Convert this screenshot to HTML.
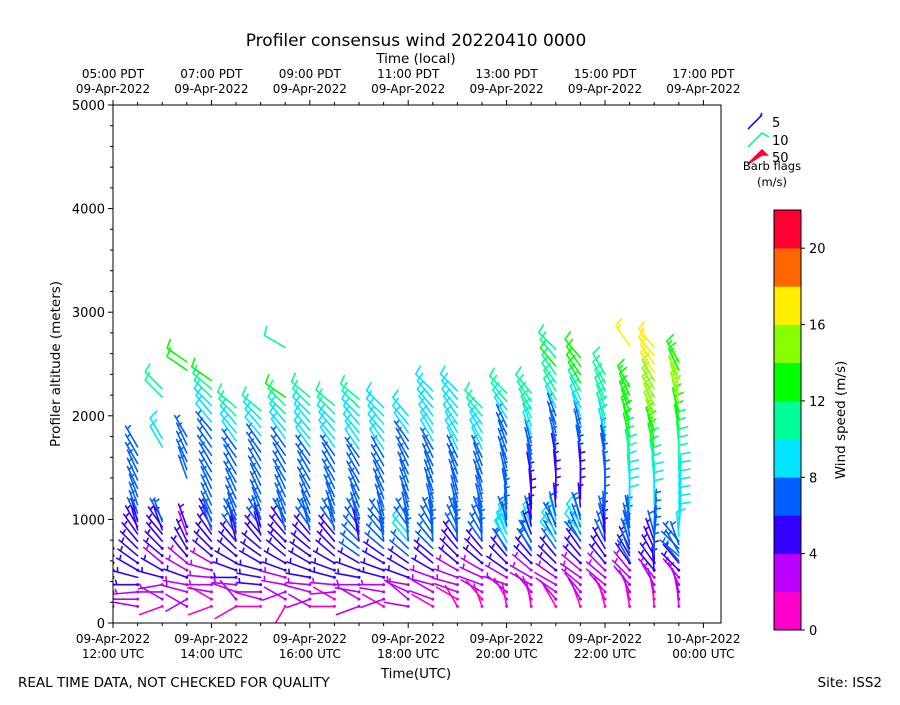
<!DOCTYPE html>
<html><head><meta charset="utf-8"><style>
body{margin:0;background:#fff;}
svg text{font-family:"DejaVu Sans","Liberation Sans",sans-serif;}
</style></head><body>
<svg id="chart" width="900" height="700" viewBox="0 0 900 700" xmlns="http://www.w3.org/2000/svg">
<rect x="0" y="0" width="900" height="700" fill="#fff"/>
<text x="416" y="46" font-size="17" text-anchor="middle">Profiler consensus wind 20220410 0000</text>
<text x="416" y="63" font-size="13.5" text-anchor="middle">Time (local)</text>
<text x="416" y="678" font-size="13.5" text-anchor="middle">Time(UTC)</text>
<text x="60" y="364" font-size="13.5" text-anchor="middle" transform="rotate(-90 60 364)">Profiler altitude (meters)</text>
<text x="18" y="687" font-size="13.5">REAL TIME DATA, NOT CHECKED FOR QUALITY</text>
<text x="882" y="687" font-size="13.5" text-anchor="end">Site: ISS2</text>
<defs><clipPath id="pc"><rect x="113" y="105" width="608" height="518"/></clipPath></defs>
<g id="barbs" clip-path="url(#pc)"></g>
<rect x="113" y="105" width="608" height="518" fill="none" stroke="#000" stroke-width="1"/>
<g id="axes"></g>
<g id="legend"></g>
<g id="cbar"></g>
</svg>
<script>
const colHours=[0,0.5,1,1.5,2,2.5,3,3.5,4,4.5,5,5.5,6,6.5,7,7.5,8,8.5,9,9.5,10,10.5,11,11.5];
const lowHeights=[160,230,300,370,440,510,580,650,720,790,860,930,1000];
const lowSpd=[
[2,2,3,4,4,4,4,4,4,5,5,5,null],
[2,2,3,4,5,4,4,5,5,5,5,5,6],
[1,2,2,3,4,4,3,4,4,5,5,5,6],
[2,2,3,3,4,3,3,4,4,4,3,4,null],
[1,1,2,3,3,3,3,4,4,5,5,5,5],
[1,2,2,3,4,4,4,4,5,5,6,6,6],
[1,2,2,4,5,4,4,5,5,5,5,6,6],
[1,2,2,3,3,4,4,5,5,4,5,5,6],
[2,2,2,3,4,4,4,4,5,5,5,6,6],
[1,1,2,3,4,4,4,5,5,5,5,6,6],
[2,2,3,3,4,4,5,6,6,6,6,6,6],
[1,2,2,3,4,4,4,5,6,7,7,7,7],
[2,2,3,3,4,5,5,6,7,8,8,7,7],
[1,2,2,3,3,4,5,5,6,6,7,7,7],
[1,1,2,3,3,3,4,4,5,5,6,6,6],
[1,1,2,2,3,3,4,5,5,6,6,6,7],
[1,1,2,3,3,4,4,5,6,8,8,8,7],
[1,1,2,2,3,3,4,5,6,6,8,8,7],
[1,2,2,2,3,4,5,5,6,6,7,7,8],
[1,2,2,3,3,3,4,5,5,6,6,7,7],
[1,1,2,2,3,3,4,4,5,6,6,7,6],
[1,1,2,2,3,3,4,5,5,6,6,6,6],
[1,1,2,3,3,4,4,5,5,5,6,null,null],
[1,2,2,3,3,4,5,6,6,6,null,null,null]];
const lowDir=[
[250,290,270,275,300,305,310,315,315,320,320,325,330],
[280,270,265,270,285,300,305,310,315,320,325,330,335],
[250,300,270,260,285,300,310,310,315,320,320,325,330],
[300,240,285,280,290,300,310,320,330,335,340,340,340],
[250,300,280,270,275,285,300,310,315,320,325,330,330],
[240,320,290,275,270,290,300,310,315,320,325,330,330],
[270,285,270,275,280,285,300,305,310,320,320,325,330],
[210,300,250,280,285,290,300,310,315,315,320,325,330],
[300,250,285,275,280,290,300,305,310,315,320,325,330],
[270,300,265,275,285,290,300,310,315,320,320,325,330],
[250,300,280,270,280,290,300,305,310,315,320,325,330],
[300,250,280,270,285,290,300,305,310,315,320,320,325],
[280,310,295,280,290,300,305,310,315,320,320,325,330],
[300,290,300,285,290,300,310,310,315,320,325,330,335],
[330,300,290,285,290,300,310,315,320,325,330,335,340],
[340,320,300,290,295,300,310,315,320,325,330,335,340],
[350,330,310,290,300,305,315,320,325,330,335,340,340],
[350,340,320,300,300,310,315,320,325,330,335,340,345],
[330,320,305,300,305,310,315,320,325,330,335,340,345],
[340,330,320,310,305,310,315,320,325,330,335,340,345],
[345,335,320,310,310,315,320,325,330,335,340,345,345],
[350,345,335,320,315,320,325,330,335,340,345,345,350],
[355,350,345,330,320,320,325,330,335,340,345,null,null],
[355,350,345,335,320,315,320,310,315,320,null,null,null]];
const hiStep=80;
const hiBase=[1100,900,900,1400,900,800,850,900,900,900,800,800,800,800,800,800,700,700,800,800,800,600,500,600];
const hiSpd=[
[5,5,6],
[5,5,6,6,6,6,7,7,7,7,7],
[5,6,null,null,null,null,null,null,null,null,8,9,null,null,null,null,10,11],
[6,6,7,7,7,7,null,null,null,null,null,null,null,12,12],
[6,6,6,6,7,7,7,7,7,7,7,7,7,8,8,9,10,11,12],
[5,5,6,6,6,6,7,7,7,7,7,7,8,8,9,10,11],
[5,5,6,6,6,7,7,7,7,7,7,7,8,8,9,10],
[6,6,6,7,7,7,7,7,7,7,7,8,8,9,10,11,12,null,null,null,null,null,11],
[6,6,6,7,7,7,7,7,7,7,8,8,8,9,9,10,11],
[6,6,6,7,7,7,7,7,7,7,8,8,9,9,10,11],
[5,5,6,6,6,7,7,7,7,7,7,8,8,8,9,9,10,11],
[6,6,6,6,7,7,7,7,7,7,7,8,8,8,9,9,9],
[7,7,7,7,7,7,7,7,7,7,7,7,7,8,8,9],
[6,6,6,6,7,7,7,7,7,7,7,7,8,8,9,9,9,9,9],
[6,6,7,7,7,7,7,7,7,7,7,8,8,8,9,9,9,9,9],
[6,6,6,6,7,7,7,7,7,7,7,8,8,9,9,10,11],
[7,8,8,7,6,6,6,6,7,7,7,7,7,7,7,7,8,9,10,11],
[6,6,5,5,5,5,5,5,5,5,6,6,6,7,8,9,10,11,11,11],
[8,8,7,6,5,5,5,5,5,5,5,6,6,6,7,7,9,10,10,11,11,12,11,11],
[7,8,9,7,5,5,5,5,5,5,5,6,6,6,7,8,9,10,11,12,12,12,12],
[5,5,5,6,6,6,6,6,6,6,7,7,7,8,9,10,10,10,11,11,11],
[6,6,7,7,7,7,8,8,8,9,9,10,10,11,11,12,12,13,13,13,12,13,null,null,null,null,17],
[5,5,6,6,6,7,7,7,8,8,8,9,10,11,11,12,13,13,14,14,15,15,15,15,16,16,16,17],
[7,6,7,8,8,8,9,9,9,9,9,10,10,10,10,11,12,12,13,14,14,15,14,13,13]];
const hiDir=[
[335,340,340],
[345,345,340,340,340,335,335,335,330,330,330],
[340,340,0,0,0,0,0,0,0,0,330,330,0,0,0,0,315,315],
[340,340,335,335,335,330,0,0,0,0,0,0,0,305,305],
[340,340,335,335,335,335,330,330,330,325,325,325,320,320,320,315,315,310,305],
[345,345,340,340,335,335,335,330,330,330,325,325,325,320,320,315,310],
[345,345,340,340,335,335,335,330,330,330,325,325,320,320,315,310],
[345,340,340,335,335,335,330,330,330,325,325,325,320,320,315,315,305,0,0,0,0,0,300],
[345,340,340,335,335,330,330,330,325,325,325,320,320,320,315,315,310],
[345,345,340,340,335,335,330,330,330,325,325,320,320,315,315,310],
[350,345,345,340,340,335,335,330,330,330,325,325,325,320,320,315,315,310],
[350,350,345,345,340,340,335,335,330,330,330,325,325,320,320,315,315],
[355,350,350,345,345,340,340,340,335,335,330,330,325,325,320,320],
[355,355,350,350,345,345,340,340,340,335,335,330,330,330,325,325,320,320,315],
[355,355,350,350,345,345,345,340,340,335,335,335,330,330,325,325,320,320,315],
[355,355,350,350,345,345,345,340,340,340,335,335,330,330,325,320,315],
[330,335,340,350,355,355,355,350,350,345,345,340,340,340,335,335,330,325,320,315],
[330,335,340,350,355,0,0,355,355,350,350,350,345,345,340,340,335,330,325,320],
[320,325,330,345,355,0,0,0,355,355,350,350,345,345,340,340,335,330,330,325,325,320,320,315],
[320,320,325,340,355,0,0,0,0,355,355,350,350,345,345,340,335,335,330,330,325,325,320],
[355,355,355,355,0,0,0,0,355,355,350,350,350,345,345,340,340,335,335,330,330],
[330,340,345,350,355,355,0,0,0,0,355,355,355,350,350,345,345,340,340,335,335,330,0,0,0,0,325],
[355,0,0,0,5,5,5,5,0,0,0,355,355,350,350,345,345,340,340,335,335,330,330,330,325,325,320,320],
[320,330,340,355,5,5,5,5,5,5,5,0,0,0,355,355,350,350,345,345,340,340,335,335,330]];
const cbTicks=[0,4,8,12,16,20];
const cbColors=['#ff00cc','#bb00ff','#3300ff','#0060ff','#00e5ff','#00ff99','#00ff00','#88ff00','#ffee00','#ff6600','#ff0033'];
const yTicks=[0,1000,2000,3000,4000,5000];
const xTickHours=[0,2,4,6,8,10,12];
const xTickLabels=['12:00 UTC','14:00 UTC','16:00 UTC','18:00 UTC','20:00 UTC','22:00 UTC','00:00 UTC'];
const xTickDates=['09-Apr-2022','09-Apr-2022','09-Apr-2022','09-Apr-2022','09-Apr-2022','09-Apr-2022','10-Apr-2022'];
const topTickLabels=['05:00 PDT','07:00 PDT','09:00 PDT','11:00 PDT','13:00 PDT','15:00 PDT','17:00 PDT'];
const topTickDates=['09-Apr-2022','09-Apr-2022','09-Apr-2022','09-Apr-2022','09-Apr-2022','09-Apr-2022','09-Apr-2022'];

const NS='http://www.w3.org/2000/svg';
const X0=113,PX_PER_H=49.2,Y0=623,PX_PER_M=518/5000;
const xs=h=>X0+h*PX_PER_H;
const ys=m=>Y0-m*PX_PER_M;
function mk(tag,attrs,parent){const e=document.createElementNS(NS,tag);for(const k in attrs)e.setAttribute(k,attrs[k]);parent.appendChild(e);return e;}
const colorFor=s=>cbColors[Math.max(0,Math.min(10,Math.floor(s/2)))];
const barbG=document.getElementById('barbs');
const L=24,BL=9,SP=3.2;
function drawBarb(x,y,spd,dir){
  const g=mk('g',{},barbG);
  
  
  const c=colorFor(spd);
  const t=dir*Math.PI/180;
  const sx=Math.sin(t),sy=-Math.cos(t);
  const tx=x+sx*L,ty=y+sy*L;
  const ph=75*Math.PI/180;
  const bx=sx*Math.cos(ph)-sy*Math.sin(ph),by=sx*Math.sin(ph)+sy*Math.cos(ph);
  let d=`M${x.toFixed(1)},${y.toFixed(1)}L${tx.toFixed(1)},${ty.toFixed(1)}`;
  const r=Math.round(spd/5)*5;
  const nf=Math.floor(r/10),half=(r%10)>=5;
  let pos=0;
  for(let i=0;i<nf;i++){const px=tx-sx*pos,py=ty-sy*pos;d+=`M${px.toFixed(1)},${py.toFixed(1)}l${(bx*BL).toFixed(1)},${(by*BL).toFixed(1)}`;pos+=SP;}
  if(half){if(nf===0)pos=SP;const px=tx-sx*pos,py=ty-sy*pos;d+=`M${px.toFixed(1)},${py.toFixed(1)}l${(bx*BL/2).toFixed(1)},${(by*BL/2).toFixed(1)}`;}
  mk('path',{d:d,stroke:c,'stroke-width':1.6,fill:'none','stroke-linecap':'round'},g);
  if(spd<5)mk('circle',{cx:x,cy:y,r:1.5,fill:c},g);
}
colHours.forEach((h,ci)=>{
  const x=xs(h);
  lowHeights.forEach((m,li)=>{const s=lowSpd[ci][li];if(s!=null)drawBarb(x,ys(m),s,lowDir[ci][li]);});
  hiSpd[ci].forEach((s,li)=>{if(s!=null)drawBarb(x,ys(hiBase[ci]+li*hiStep),s,hiDir[ci][li]);});
});
const ax=document.getElementById('axes');
for(let m=0;m<=5000;m+=200){const y=ys(m);const major=m%1000===0;const t=mk('line',{x1:X0,x2:X0-(major?5:3),y1:y,y2:y,stroke:'#000','stroke-width':1},ax);}
yTicks.forEach(v=>{const t=mk('text',{x:X0-8,y:ys(v)+5,'font-size':13,'text-anchor':'end'},ax);t.textContent=String(v);});
for(let h=0;h<=12.25;h+=0.5){const x=xs(h);const major=h%2===0;const a=mk('line',{x1:x,x2:x,y1:Y0,y2:Y0+(major?5:3),stroke:'#000'},ax);const b=mk('line',{x1:x,x2:x,y1:105,y2:105-(major?5:3),stroke:'#000'},ax);}
xTickHours.forEach((h,i)=>{const x=xs(h);
  const a=mk('text',{x:x,y:643,'font-size':12,'text-anchor':'middle'},ax);a.textContent=xTickDates[i];
  const b=mk('text',{x:x,y:658,'font-size':12,'text-anchor':'middle'},ax);b.textContent=xTickLabels[i];
  const c=mk('text',{x:x,y:78,'font-size':12,'text-anchor':'middle'},ax);c.textContent=topTickLabels[i];
  const d=mk('text',{x:x,y:93,'font-size':12,'text-anchor':'middle'},ax);d.textContent=topTickDates[i];
});
const lg=document.getElementById('legend');
const legItems=[{v:'5',c:'#3300ff',y:122},{v:'10',c:'#00ff99',y:140},{v:'50',c:'#ff0033',y:157}];
legItems.forEach(it=>{const g=mk('g',{},lg);
  const x1=748,y1=it.y+7,x2=762,y2=it.y-7;
  if(it.v==='5')mk('path',{d:`M${x1},${y1}L${x2},${y2}M${x2-2},${y2+2}l2,-4`,stroke:it.c,'stroke-width':1.6,fill:'none'},g);
  else if(it.v==='10')mk('path',{d:`M${x1},${y1}L${x2},${y2}l7,4`,stroke:it.c,'stroke-width':1.6,fill:'none'},g);
  else mk('path',{d:`M${x1},${y1}L${x2},${y2}l5,5l-5,0z`,stroke:it.c,'stroke-width':1.6,fill:it.c},g);
  const t=mk('text',{x:772,y:it.y+5,'font-size':13},g);t.textContent=it.v;});
const lt1=mk('text',{x:772,y:170,'font-size':11.5,'text-anchor':'middle'},lg);lt1.textContent='Barb flags';
const lt2=mk('text',{x:772,y:186,'font-size':11.5,'text-anchor':'middle'},lg);lt2.textContent='(m/s)';
const cb=document.getElementById('cbar');
const CBX=774,CBW=27,CBT=210,CBB=630,CBH=(CBB-CBT)/22;
cbColors.forEach((c,i)=>{const r=mk('rect',{x:CBX,y:CBB-(i+1)*2*CBH,width:CBW,height:2*CBH+0.3,fill:c},cb);});
mk('rect',{x:CBX,y:CBT,width:CBW,height:CBB-CBT,fill:'none',stroke:'#000'},cb);
cbTicks.forEach(v=>{const y=CBB-v*CBH;mk('line',{x1:CBX+CBW,x2:CBX+CBW+4,y1:y,y2:y,stroke:'#000'},cb);const t=mk('text',{x:CBX+CBW+8,y:y+5,'font-size':13},cb);t.textContent=String(v);});
const ct=mk('text',{x:845,y:420,'font-size':13.5,'text-anchor':'middle',transform:'rotate(-90 845 420)'},cb);ct.textContent='Wind speed (m/s)';


</script>
</body></html>
